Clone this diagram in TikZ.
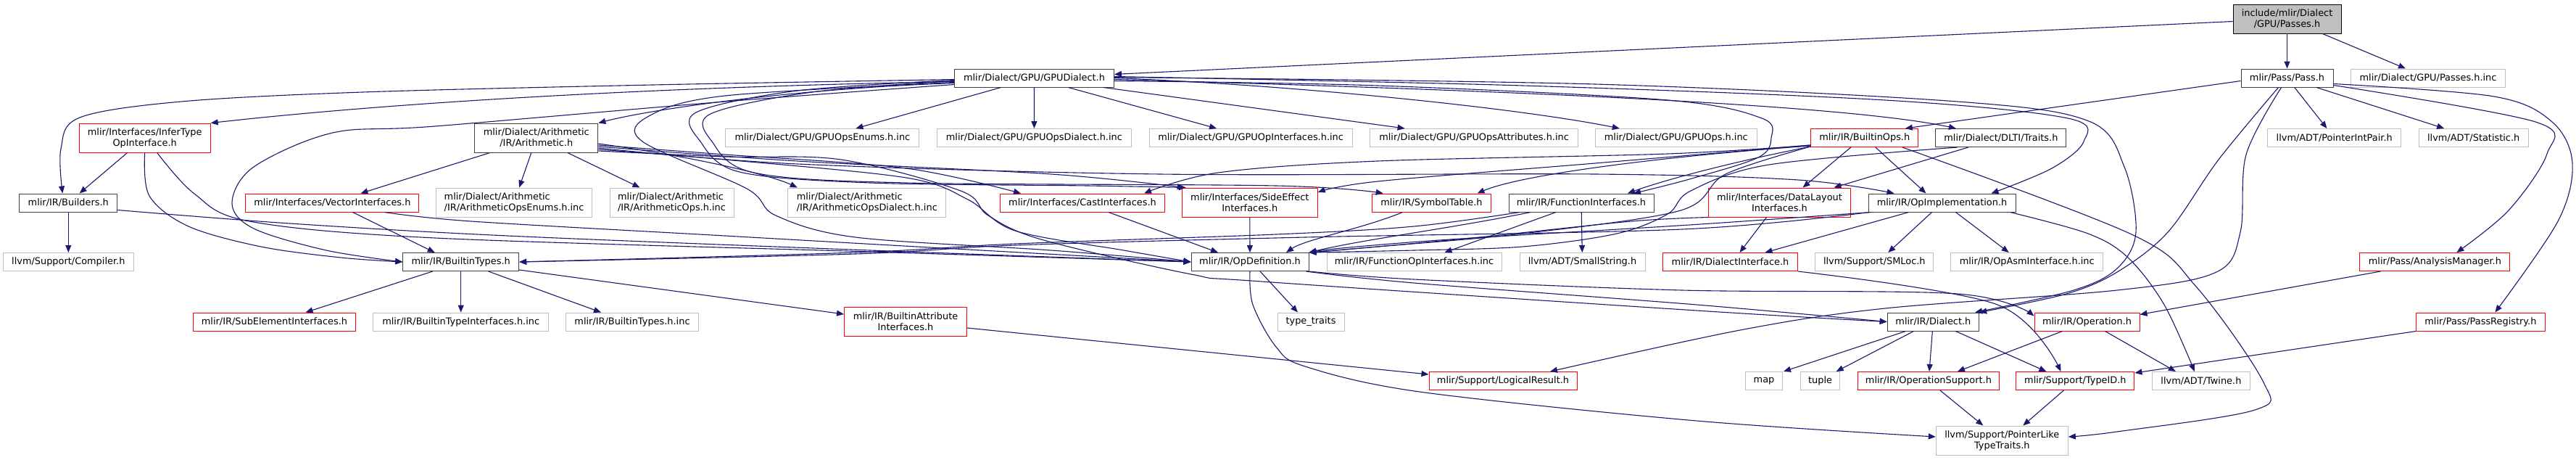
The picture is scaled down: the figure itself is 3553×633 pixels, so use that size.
\documentclass[tikz,border=0pt]{standalone}
\usepackage{fontspec}
\setmainfont{DejaVu Sans}
\usetikzlibrary{arrows.meta}
\definecolor{edgec}{HTML}{191970}
\definecolor{redb}{HTML}{FF0000}
\definecolor{grayb}{HTML}{BFBFBF}
\definecolor{blackb}{HTML}{404040}
\begin{document}
\begin{tikzpicture}[x=1pt,y=-1pt,
  box/.style={draw, line width=1pt, inner sep=0pt, fill=white, align=center,
    font=\fontsize{12.9pt}{15pt}\selectfont},
  bk/.style={box, draw=blackb},
  rd/.style={box, draw=redb},
  gy/.style={box, draw=grayb},
  top/.style={box, draw=black, fill=grayb},
  w/.style={minimum width=#1},
  h1/.style={minimum height=25pt},
  h2/.style={minimum height=40pt},
  e/.style={draw=edgec, line width=1.1pt, -{Triangle[length=10pt,width=8pt]}},
  sm/.style={smooth, tension=0.55}]
\fill[white] (0,0) rectangle (3553,633);
\useasboundingbox (0,0) rectangle (3553,633);
% row 0
\node[top,w=149pt,h2] (P0) at (3154.5,26) {include/mlir/Dialect\\/GPU/Passes.h};
% row 1
\node[bk,w=220pt,h1] (GD) at (1426.5,107.5) {mlir/Dialect/GPU/GPUDialect.h};
\node[bk,w=127pt,h1] (PS) at (3154.5,107.5) {mlir/Pass/Pass.h};
\node[gy,w=213pt,h1] (PI) at (3349,107.5) {mlir/Dialect/GPU/Passes.h.inc};
% row 2
\node[rd,w=181pt,h2] (IT) at (199.7,190) {mlir/Interfaces/InferType\\OpInterface.h};
\node[bk,w=170pt,h2] (AR) at (739.8,190) {mlir/Dialect/Arithmetic\\/IR/Arithmetic.h};
\node[gy,w=267pt,h1] (GE) at (1134.4,190) {mlir/Dialect/GPU/GPUOpsEnums.h.inc};
\node[gy,w=268pt,h1] (GOD) at (1426.4,190) {mlir/Dialect/GPU/GPUOpsDialect.h.inc};
\node[gy,w=280pt,h1] (GOI) at (1725.1,190) {mlir/Dialect/GPU/GPUOpInterfaces.h.inc};
\node[gy,w=287pt,h1] (GOA) at (2033.1,190) {mlir/Dialect/GPU/GPUOpsAttributes.h.inc};
\node[gy,w=223pt,h1] (GO) at (2311.8,190) {mlir/Dialect/GPU/GPUOps.h.inc};
\node[rd,w=148pt,h1] (BO) at (2571.8,190) {mlir/IR/BuiltinOps.h};
\node[bk,w=180pt,h1] (DT) at (2759.9,190) {mlir/Dialect/DLTI/Traits.h};
\node[gy,w=184.5pt,h1] (PIP) at (3219.7,190) {llvm/ADT/PointerIntPair.h};
\node[gy,w=151pt,h1] (ST) at (3411.7,190) {llvm/ADT/Statistic.h};
% row 3
\node[bk,w=135pt,h1] (BU) at (94.3,279.5) {mlir/IR/Builders.h};
\node[rd,w=239pt,h1] (VI) at (458.4,279.5) {mlir/Interfaces/VectorInterfaces.h};
\node[gy,w=215pt,h2,align=left] (AE) at (709.1,279) {mlir/Dialect/Arithmetic\\/IR/ArithmeticOpsEnums.h.inc};
\node[gy,w=171pt,h2,align=left] (AO) at (926.5,279) {mlir/Dialect/Arithmetic\\/IR/ArithmeticOps.h.inc};
\node[gy,w=218pt,h2,align=left] (AD) at (1195.8,279) {mlir/Dialect/Arithmetic\\/IR/ArithmeticOpsDialect.h.inc};
\node[rd,w=227pt,h1] (CI) at (1493,279.5) {mlir/Interfaces/CastInterfaces.h};
\node[rd,w=187pt,h2] (SE) at (1723.8,279) {mlir/Interfaces/SideEffect\\Interfaces.h};
\node[rd,w=164.5pt,h1] (SY) at (1974.5,279.5) {mlir/IR/SymbolTable.h};
\node[bk,w=200pt,h1] (FI) at (2181,279.5) {mlir/IR/FunctionInterfaces.h};
\node[rd,w=196pt,h2] (DL) at (2454.5,279) {mlir/Interfaces/DataLayout\\Interfaces.h};
\node[bk,w=203pt,h1] (OI) at (2678.5,279.5) {mlir/IR/OpImplementation.h};
% row 4
\node[gy,w=179.5pt,h1] (CO) at (94.3,361) {llvm/Support/Compiler.h};
\node[bk,w=160pt,h1] (BT) at (635.7,361) {mlir/IR/BuiltinTypes.h};
\node[bk,w=162pt,h1] (OD) at (1724,361) {mlir/IR/OpDefinition.h};
\node[gy,w=241pt,h1] (FO) at (1950.5,361) {mlir/IR/FunctionOpInterfaces.h.inc};
\node[gy,w=173pt,h1] (SS) at (2182.5,361) {llvm/ADT/SmallString.h};
\node[rd,w=185.6pt,h1] (DI) at (2386.5,361) {mlir/IR/DialectInterface.h};
\node[gy,w=163pt,h1] (SM) at (2585.3,361) {llvm/Support/SMLoc.h};
\node[gy,w=210pt,h1] (OA) at (2795.7,361) {mlir/IR/OpAsmInterface.h.inc};
\node[rd,w=207pt,h1] (AM) at (3358.4,361) {mlir/Pass/AnalysisManager.h};
% row 5
\node[rd,w=224pt,h1] (SUB) at (378.5,443.5) {mlir/IR/SubElementInterfaces.h};
\node[gy,w=242pt,h1] (BTI) at (635.7,443.5) {mlir/IR/BuiltinTypeInterfaces.h.inc};
\node[gy,w=183pt,h1] (BTH) at (872,443.5) {mlir/IR/BuiltinTypes.h.inc};
\node[rd,w=169pt,h2] (BAI) at (1249,443) {mlir/IR/BuiltinAttribute\\Interfaces.h};
\node[gy,w=92pt,h1] (TT) at (1808,443.5) {type\_traits};
\node[bk,w=126.5pt,h1] (DH) at (2666.4,443.5) {mlir/IR/Dialect.h};
\node[rd,w=145pt,h1] (OP) at (2878.5,443.5) {mlir/IR/Operation.h};
\node[rd,w=177.6pt,h1] (PR) at (3421.4,443.5) {mlir/Pass/PassRegistry.h};
% row 6
\node[rd,w=204pt,h1] (LR) at (2073,525) {mlir/Support/LogicalResult.h};
\node[gy,w=50.6pt,h1] (MP) at (2433,525) {map};
\node[gy,w=54.6pt,h1] (TU) at (2510.6,525) {tuple};
\node[rd,w=195pt,h1] (OS) at (2659.9,525) {mlir/IR/OperationSupport.h};
\node[rd,w=163pt,h1] (TI) at (2862.4,525) {mlir/Support/TypeID.h};
\node[gy,w=135pt,h1] (TW) at (3035.9,525) {llvm/ADT/Twine.h};
% row 7
\node[gy,w=182pt,h2] (PL) at (2761.3,607) {llvm/Support/PointerLike\\TypeTraits.h};

% ---- edges ----
% Passes.h
\draw[e] (P0) -- (GD);
\draw[e] (P0) -- (PS);
\draw[e] (P0) -- (PI);
% GPUDialect.h
\draw[e] plot[sm] coordinates {([yshift=-2pt]GD.west) (900,117) (500,127) (250,140) (110,162) (84,205) ([xshift=-8pt]BU.north)};
\draw[e] ([yshift=-5pt]GD.west) .. controls (1000,118) and (600,135) .. (IT.north east);
\draw[e] ([yshift=-7pt]GD.west) .. controls (1100,122) and (900,150) .. (AR.north east);
\draw[e] plot[sm] coordinates {([yshift=-9pt]GD.west) (1000,140) (600,174) (459,183) (350,230) (320,280) (350,315) (450,345) (BT.west)};
\draw[e] (GD) -- (GE);
\draw[e] (GD) -- (GOD);
\draw[e] (GD) -- (GOI);
\draw[e] (GD) -- (GOA);
\draw[e] (GD.east) .. controls (1800,118) and (2100,150) .. ([xshift=-78pt]GO.north);
\draw[e] ([yshift=-2pt]GD.east) .. controls (2100,125) and (2550,145) .. ([xshift=-62pt]DT.north);
\draw[e] plot[sm] coordinates {([yshift=-4pt]GD.east) (1900,118) (2300,138) (2430,163) (2443,190) (2425,217) (2330,247) ([xshift=72pt]FI.north)};
\draw[e] plot[sm] coordinates {([yshift=2pt]GD.east) (2100,118) (2600,138) (2852,163) (2874,195) (2830,232) ([xshift=68pt]OI.north)};
\draw[e] plot[sm] coordinates {([yshift=1pt]GD.east) (2200,116) (2700,140) (2881,167) (2930,230) (2946,320) (2920,370) (2860,400) ([xshift=-6pt]DH.north east)};
\draw[e] plot[sm] coordinates {([yshift=-3pt]GD.west) (1100,125) (960,155) (966,195) (1020,237) (1200,252) (1500,256) ([xshift=6pt]SE.north west)};
\draw[e] plot[sm] coordinates {([yshift=-4pt]GD.west) (1120,127) (980,157) (982,195) (1040,238) (1250,252) (1760,256) ([xshift=16pt]SY.north west)};
\draw[e] plot[sm] coordinates {([yshift=-6pt]GD.west) (1000,132) (895,160) (886,195) (1030,260) (1070,297) (1180,327) (1450,345) (OD.west)};
% InferTypeOpInterface.h
\draw[e] (IT) -- (BU);
\draw[e] plot[sm] coordinates {(IT.south) (206,270) (260,312) (360,340) (470,355) (BT.west)};
\draw[e] plot[sm] coordinates {([xshift=17pt]IT.south) (268,267) (344,305) (600,328) (1200,347) (OD.west)};
% Builders.h
\draw[e] (BU) -- (CO);
\draw[e] plot[sm] coordinates {([yshift=-10pt]BU.east) (400,308) (700,325) (1200,345) (OD.west)};
% VectorInterfaces.h
\draw[e] ([xshift=28pt]VI.south) -- ([xshift=-36pt]BT.north);
\draw[e] plot[sm] coordinates {([xshift=72pt]VI.south) (650,305) (1000,325) (1300,342) (OD.west)};
% Arithmetic.h
\draw[e] ([xshift=-64pt]AR.south) -- ([xshift=39pt]VI.north);
\draw[e] ([xshift=-7pt]AR.south) -- ([xshift=7pt]AE.north);
\draw[e] ([xshift=43pt]AR.south) -- ([xshift=-44pt]AO.north);
\draw[e] ([yshift=-8pt]AR.east) .. controls (950,215) and (1060,240) .. ([xshift=-96pt]AD.north);
\draw[e] plot[sm] coordinates {([yshift=-10pt]AR.east) (1000,213) (1250,232) ([xshift=-85pt]CI.north)};
\draw[e] plot[sm] coordinates {([yshift=-12pt]AR.east) (1100,222) (1450,240) ([xshift=4pt]SE.north west)};
\draw[e] plot[sm] coordinates {([yshift=-14pt]AR.east) (1100,226) (1600,240) (2200,240) (2480,248) ([xshift=-66pt]OI.north)};
\draw[e] plot[sm] coordinates {([yshift=-16pt]AR.east) (1000,220) (1250,245) (1335,275) (1400,318) (1550,345) (OD.west)};
\draw[e] plot[sm] coordinates {([yshift=-18pt]AR.east) (1000,216) (1160,220) (1325,263) (1363,297) (1436,330) (1643,378) (1740,388) (2340,428) (DH.west)};
% BuiltinOps.h
\draw[e] plot[sm] coordinates {([yshift=-10pt]BO.west) (2300,212) (1900,222) (1680,238) ([xshift=85pt]CI.north)};
\draw[e] plot[sm] coordinates {([yshift=-10pt]BO.west) (2200,225) (1900,250) ([yshift=14pt]SE.east)};
\draw[e] ([yshift=-11pt]BO.west) .. controls (2300,215) and (2100,240) .. ([xshift=63pt]SY.north);
\draw[e] ([yshift=-12pt]BO.west) .. controls (2380,225) and (2290,250) .. ([xshift=64pt]FI.north);
\draw[e] ([xshift=-19pt]BO.south) -- ([xshift=32pt]DL.north);
\draw[e] ([xshift=15pt]BO.south) -- ([xshift=-22pt]OI.north);
\draw[e] plot[sm] coordinates {([xshift=52pt]BO.south) (2940,323) (3029,395) (3122,527) (3110,565) (2920,595) ([yshift=5pt]PL.east)};
\draw[e] plot[sm] coordinates {([yshift=-12pt]BO.west) (2380,240) (2318,290) (2100,322) (1900,340) (OD.north east)};
% Pass.h
\draw[e] ([yshift=-4pt]PS.west) -- ([xshift=56pt]BO.north);
\draw[e] (PS) -- (PIP);
\draw[e] (PS) -- (ST);
\draw[e] plot[sm] coordinates {([yshift=-10pt]PS.east) (3497,168) (3513,212) (3460,290) ([xshift=30pt]AM.north)};
\draw[e] plot[sm] coordinates {([yshift=-8pt]PS.east) (3440,133) (3520,168) (3548,225) (3528,305) ([xshift=20pt]PR.north)};
\draw[e] plot[sm] coordinates {([xshift=-12pt]PS.south) (3060,220) (2990,320) (2920,375) (2850,405) (DH.north east)};
\draw[e] plot[sm] coordinates {([xshift=-8pt]PS.south) (3098,213) (3090,320) (3057,375) (2920,400) (2600,425) (2400,455) ([xshift=65pt]LR.north)};
% DLTI/Traits.h
\draw[e] ([xshift=-45pt]DT.south) -- ([xshift=75pt]DL.north);
\draw[e] plot[sm] coordinates {([xshift=-60pt]DT.south) (2440,227) (2332,263) (2300,295) (2230,322) (2100,340) (1950,345) (OD.north east)};
% CastInterfaces, SideEffect, SymbolTable
\draw[e] ([xshift=36pt]CI.south) -- ([xshift=-44pt]OD.north);
\draw[e] (SE) -- (OD);
\draw[e] ([xshift=-40pt]SY.south) .. controls (1880,315) and (1800,330) .. ([xshift=50pt]OD.north);
% FunctionInterfaces.h
\draw[e] ([xshift=-70pt]FI.south) .. controls (2000,315) and (1880,330) .. (OD.north east);
\draw[e] ([xshift=-35pt]FI.south) -- ([xshift=42pt]FO.north);
\draw[e] (FI) -- (SS);
\draw[e] plot[sm] coordinates {([xshift=-85pt]FI.south) (1950,312) (1760,323) (1400,336) (1180,348) (BT.east)};
% DataLayoutInterfaces.h
\draw[e] ([xshift=-18pt]DL.south) -- ([xshift=13pt]DI.north);
\draw[e] plot[sm] coordinates {(DL.south west) (2250,305) (2050,326) (1900,340) (OD.north east)};
% OpImplementation.h
\draw[e] ([xshift=-46pt]OI.south) -- ([xshift=48pt]DI.north);
\draw[e] ([xshift=-14pt]OI.south) -- ([xshift=19pt]SM.north);
\draw[e] ([xshift=19pt]OI.south) -- ([xshift=-25pt]OA.north);
\draw[e] plot[sm] coordinates {([xshift=94pt]OI.south) (2880,322) (2935,355) (2985,420) ([xshift=-9pt]TW.north)};
\draw[e] plot[sm] coordinates {([xshift=-98pt]OI.south) (2330,310) (2000,330) (1850,342) (OD.north east)};
\draw[e] plot[sm] coordinates {([xshift=-100pt]OI.south) (2320,316) (1800,327) (1400,338) (1180,350) (BT.east)};
% BuiltinTypes.h
\draw[e] ([xshift=-39pt]BT.south) -- ([xshift=43pt]SUB.north);
\draw[e] (BT) -- (BTI);
\draw[e] ([xshift=38pt]BT.south) -- ([xshift=-43pt]BTH.north);
\draw[e] ([yshift=-11pt]BT.east) -- ([yshift=10pt]BAI.west);
% BuiltinAttributeInterfaces.h
\draw[e] ([yshift=-9pt]BAI.east) -- ([yshift=9pt]LR.west);
% OpDefinition.h
\draw[e] ([xshift=14pt]OD.south) -- ([xshift=-18pt]TT.north);
\draw[e] plot[sm] coordinates {([xshift=-4pt]OD.south east) (1950,390) (2340,420) (DH.west)};
\draw[e] plot[sm] coordinates {(OD.south east) (1950,385) (2320,400) (2700,405) ([yshift=8pt]OP.west)};
\draw[e] plot[sm] coordinates {(OD.south) (1728,420) (1760,478) (1800,505) (1958,540) (2340,580) ([yshift=5pt]PL.west)};
% DialectInterface.h
\draw[e] plot[sm] coordinates {(DI.south east) (2755,420) ([xshift=-20pt]TI.north)};
% Dialect.h
\draw[e] ([xshift=-38pt]DH.south) -- ([xshift=27pt]MP.north);
\draw[e] ([xshift=-27pt]DH.south) -- ([xshift=22pt]TU.north);
\draw[e] (DH) -- (OS);
\draw[e] ([xshift=31pt]DH.south) -- ([xshift=-40pt]TI.north);
% Operation.h
\draw[e] ([xshift=-34pt]OP.south) -- ([xshift=40pt]OS.north);
\draw[e] ([xshift=25pt]OP.south) -- ([xshift=-35pt]TW.north);
% AnalysisManager.h, PassRegistry.h
\draw[e] ([xshift=-75pt]AM.south) -- ([yshift=10pt]OP.east);
\draw[e] (PR.south west) -- ([yshift=11pt]TI.east);
% OperationSupport.h, TypeID.h
\draw[e] ([xshift=16pt]OS.south) -- ([xshift=-26pt]PL.north);
\draw[e] ([xshift=-16pt]TI.south) -- ([xshift=29pt]PL.north);
\end{tikzpicture}
\end{document}
